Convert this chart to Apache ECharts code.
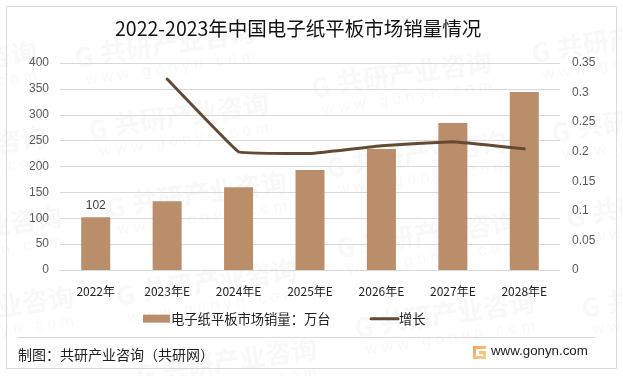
<!DOCTYPE html>
<html>
<head>
<meta charset="utf-8">
<style>
  html, body { margin: 0; padding: 0; background: #fff; }
  #chart { width: 623px; height: 376px; }
</style>
<script src="https://cdn.jsdelivr.net/npm/echarts@6/dist/echarts.min.js"></script>
</head>
<body>
<div id="chart"></div>
<script>
const categories = ['2022年', '2023年E', '2024年E', '2025年E', '2026年E', '2027年E', '2028年E']
const salesValues = [102, 133, 160, 193, 234, 284, 344]
const growthValues = [null, 0.323, 0.2, 0.197, 0.21, 0.217, 0.205]
const cjk = '"Noto Sans CJK SC", sans-serif'

// background watermark centres
const marks = [
  [-55, 75], [-45, 160], [-30, 240], [-18, 320],
  [163, 55], [177, 127], [195, 205], [205, 293], [225, 372],
  [400, 85], [415, 165], [425, 245], [443, 325],
  [620, 50], [640, 130], [655, 215], [670, 305]
]

function watermark(pos) {
  return {
    type: 'group',
    x: pos[0],
    y: pos[1],
    rotation: 8 * Math.PI / 180,
    silent: true,
    z: -10,
    children: [{
      type: 'text',
      style: { text: '共研产业咨询', x: -62, y: -24, fill: '#f8f8f8', font: 'bold 26px ' + cjk }
    }, {
      type: 'text',
      style: { text: 'G', x: -88, y: -22, fill: '#f8f8f8', font: 'bold 26px ' + cjk }
    }, {
      type: 'text',
      style: { text: 'w w w . g o n y n . c o m', x: -80, y: 6, fill: '#f8f8f8', font: '16px "Liberation Sans"' }
    }]
  }
}

const chart = echarts.init(document.getElementById('chart'))

chart.setOption({
  animation: false,
  backgroundColor: '#fff',
  title: {
    text: '2022-2023年中国电子纸平板市场销量情况',
    left: 110,
    top: 14,
    textStyle: { fontFamily: cjk, fontSize: 19.5, fontWeight: 'normal', color: '#111' }
  },
  grid: { left: 60, right: 63, top: 63, bottom: 106 },
  legend: {
    top: 307,
    left: 138,
    itemGap: 39,
    itemWidth: 27,
    itemHeight: 8,
    textStyle: { fontFamily: cjk, fontSize: 13.3, color: '#222', padding: [0, 0, 0, -4] },
    data: [
      { name: '电子纸平板市场销量：万台', icon: 'rect' },
      { name: '增长', itemStyle: { opacity: 0 }, lineStyle: { width: 3 } }
    ]
  },
  xAxis: {
    type: 'category',
    data: categories,
    axisLine: { lineStyle: { color: '#d9d9d9' } },
    axisTick: { show: false },
    axisLabel: { margin: 15, fontFamily: cjk, fontSize: 12, color: '#222' }
  },
  yAxis: [{
    type: 'value',
    min: 0,
    max: 400,
    interval: 50,
    axisLine: { show: false },
    axisTick: { show: false },
    axisLabel: { margin: 11, fontFamily: '"Liberation Sans"', fontSize: 12, color: '#595959' },
    splitLine: { lineStyle: { color: '#d9d9d9' } }
  }, {
    type: 'value',
    min: 0,
    max: 0.35,
    interval: 0.05,
    axisLine: { show: false },
    axisTick: { show: false },
    axisLabel: { margin: 12, fontFamily: '"Liberation Sans"', fontSize: 12, color: '#595959' },
    splitLine: { show: false }
  }],
  series: [{
    name: '电子纸平板市场销量：万台',
    type: 'bar',
    barWidth: 29,
    data: salesValues.map((v, i) => i === 0
      ? { value: v, label: { show: true, position: 'top', distance: 6, fontFamily: '"Liberation Sans"', fontSize: 12, color: '#404040' } }
      : v),
    itemStyle: { color: '#ba8d6b' }
  }, {
    name: '增长',
    type: 'line',
    yAxisIndex: 1,
    data: growthValues,
    smooth: 0.05,
    symbol: 'none',
    lineStyle: { color: '#644a32', width: 3, cap: 'round' },
    itemStyle: { color: '#644a32' }
  }],
  graphic: marks.map(watermark).concat([{
    type: 'rect',
    silent: true,
    z: 5,
    shape: { x: 6.5, y: 6.5, width: 610, height: 362 },
    style: { fill: 'transparent', stroke: '#d9d9d9', lineWidth: 1 }
  }, {
    type: 'line',
    silent: true,
    z: 5,
    shape: { x1: 17, y1: 337.5, x2: 595, y2: 337.5 },
    style: { stroke: '#d9d9d9', lineWidth: 1 }
  }, {
    type: 'text',
    z: 5,
    style: { text: '制图：共研产业咨询（共研网）', x: 18, y: 348, fill: '#222', font: '14px ' + cjk }
  }, {
    type: 'rect',
    z: 5,
    shape: { x: 473, y: 346, width: 13, height: 13 },
    style: {
      fill: new echarts.graphic.LinearGradient(0, 0, 1, 1, [
        { offset: 0, color: '#f6a25c' },
        { offset: 1, color: '#fbd38f' }
      ])
    }
  }, {
    type: 'rect',
    z: 6,
    shape: { x: 476, y: 349, width: 10, height: 2 },
    style: { fill: '#fff' }
  }, {
    type: 'rect',
    z: 6,
    shape: { x: 476, y: 351, width: 3, height: 5 },
    style: { fill: '#fff' }
  }, {
    type: 'rect',
    z: 6,
    shape: { x: 479, y: 354, width: 4, height: 2 },
    style: { fill: '#fff' }
  }, {
    type: 'text',
    z: 5,
    style: { text: 'www.gonyn.com', x: 491, y: 345, fill: '#222', font: '13.3px "Liberation Sans"' }
  }])
})
</script>
</body>
</html>
